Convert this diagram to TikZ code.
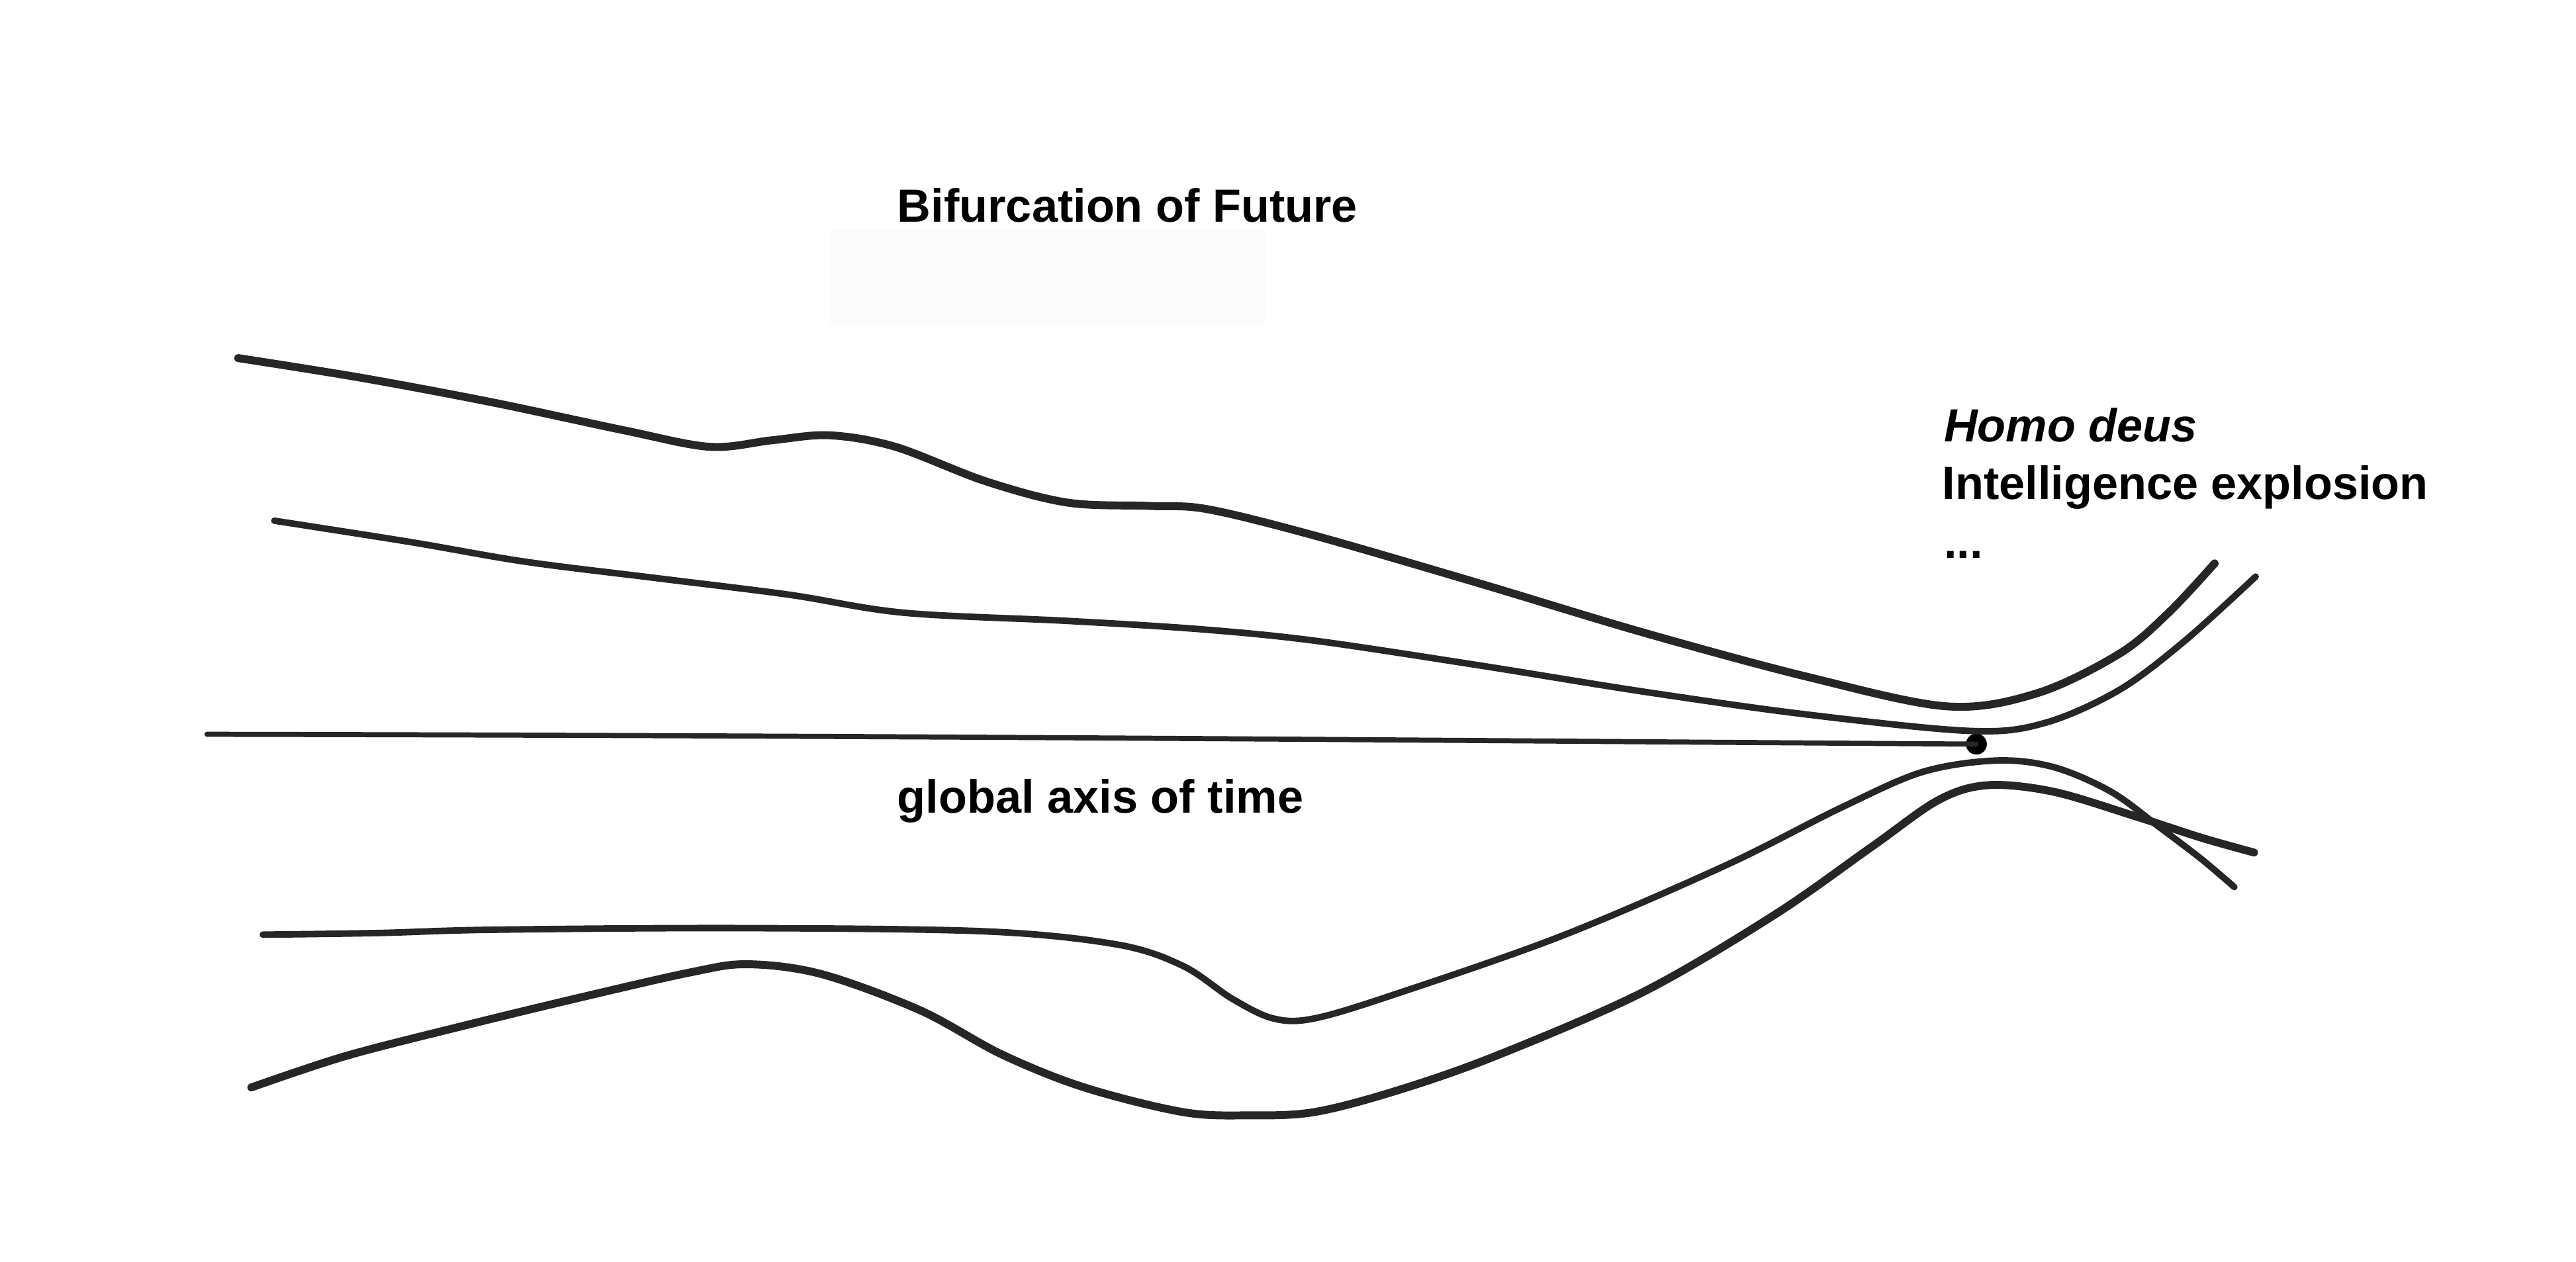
\documentclass[tikz,border=0pt]{standalone}
\usepackage{fontspec}
\setmainfont{Liberation Sans}
\begin{document}
\begin{tikzpicture}[x=0.02482cm,y=-0.02482cm,
  ink/.style={draw=black!85, line cap=round, line join=round},
  thick ink/.style={ink, line width=3.4pt},
  mid ink/.style={ink, line width=2.8pt},
  thin ink/.style={ink, line width=2.2pt},
  lbl/.style={anchor=base west, inner sep=0pt, font=\fontsize{20}{24}\selectfont\bfseries}
]
\useasboundingbox[fill=white] (0,0) rectangle (1568,768);
% faint scan artefact under title
\fill[black!1.5] (505,140) rectangle (770,198);

% labels
\node[lbl] (title) at (546,135) {Bifurcation of Future};
\node[lbl] (homo) at (1183,269) {\itshape Homo deus};
\node[lbl] (intel) at (1182,304) {Intelligence explosion};
\node[lbl] (dots) at (1183,340) {...};
\node[lbl] (axislbl) at (546,495) {global axis of time};

% global axis of time
\coordinate (axisstart) at (126,447);
\node[circle, fill=black, inner sep=0pt, minimum size=9pt] (dot) at (1203,453) {};
\draw[thin ink] (axisstart) .. controls (600,448) and (900,451) .. (dot.center);

% upper curve 1
\draw[thick ink] plot[smooth, tension=0.55] coordinates {
 (145,218) (220,230) (300,245) (380,262) (432,272) (470,268) (505,265) (545,272)
 (600,293) (650,306) (700,308) (735,310) (800,326) (900,355) (1000,385)
 (1100,412) (1185,430) (1240,422) (1290,398) (1320,373) (1348,343)};

% upper curve 2
\draw[mid ink] plot[smooth, tension=0.55] coordinates {
 (167,317) (250,330) (320,342) (400,352) (480,362) (550,373) (650,378) (730,383)
 (800,390) (900,405) (1000,421) (1100,435) (1200,445) (1245,440) (1290,420)
 (1330,390) (1373,351)};

% lower curve 1
\draw[mid ink] plot[smooth, tension=0.55] coordinates {
 (160,569) (230,568) (300,566) (450,565) (600,567) (680,575) (720,588)
 (750,608) (775,620) (800,620) (850,605) (950,570) (1050,527) (1120,492)
 (1170,470) (1215,463) (1250,467) (1285,482) (1315,504) (1340,523) (1360,540)};

% lower curve 2
\draw[thick ink] plot[smooth, tension=0.55] coordinates {
 (153,662) (210,643) (280,625) (350,608) (420,592) (455,587) (500,593)
 (560,615) (610,642) (660,662) (720,677) (760,679) (800,677) (850,664)
 (910,643) (1000,604) (1080,557) (1140,515) (1180,487) (1210,478)
 (1250,482) (1300,497) (1340,510) (1372,519)};
\end{tikzpicture}
\end{document}
